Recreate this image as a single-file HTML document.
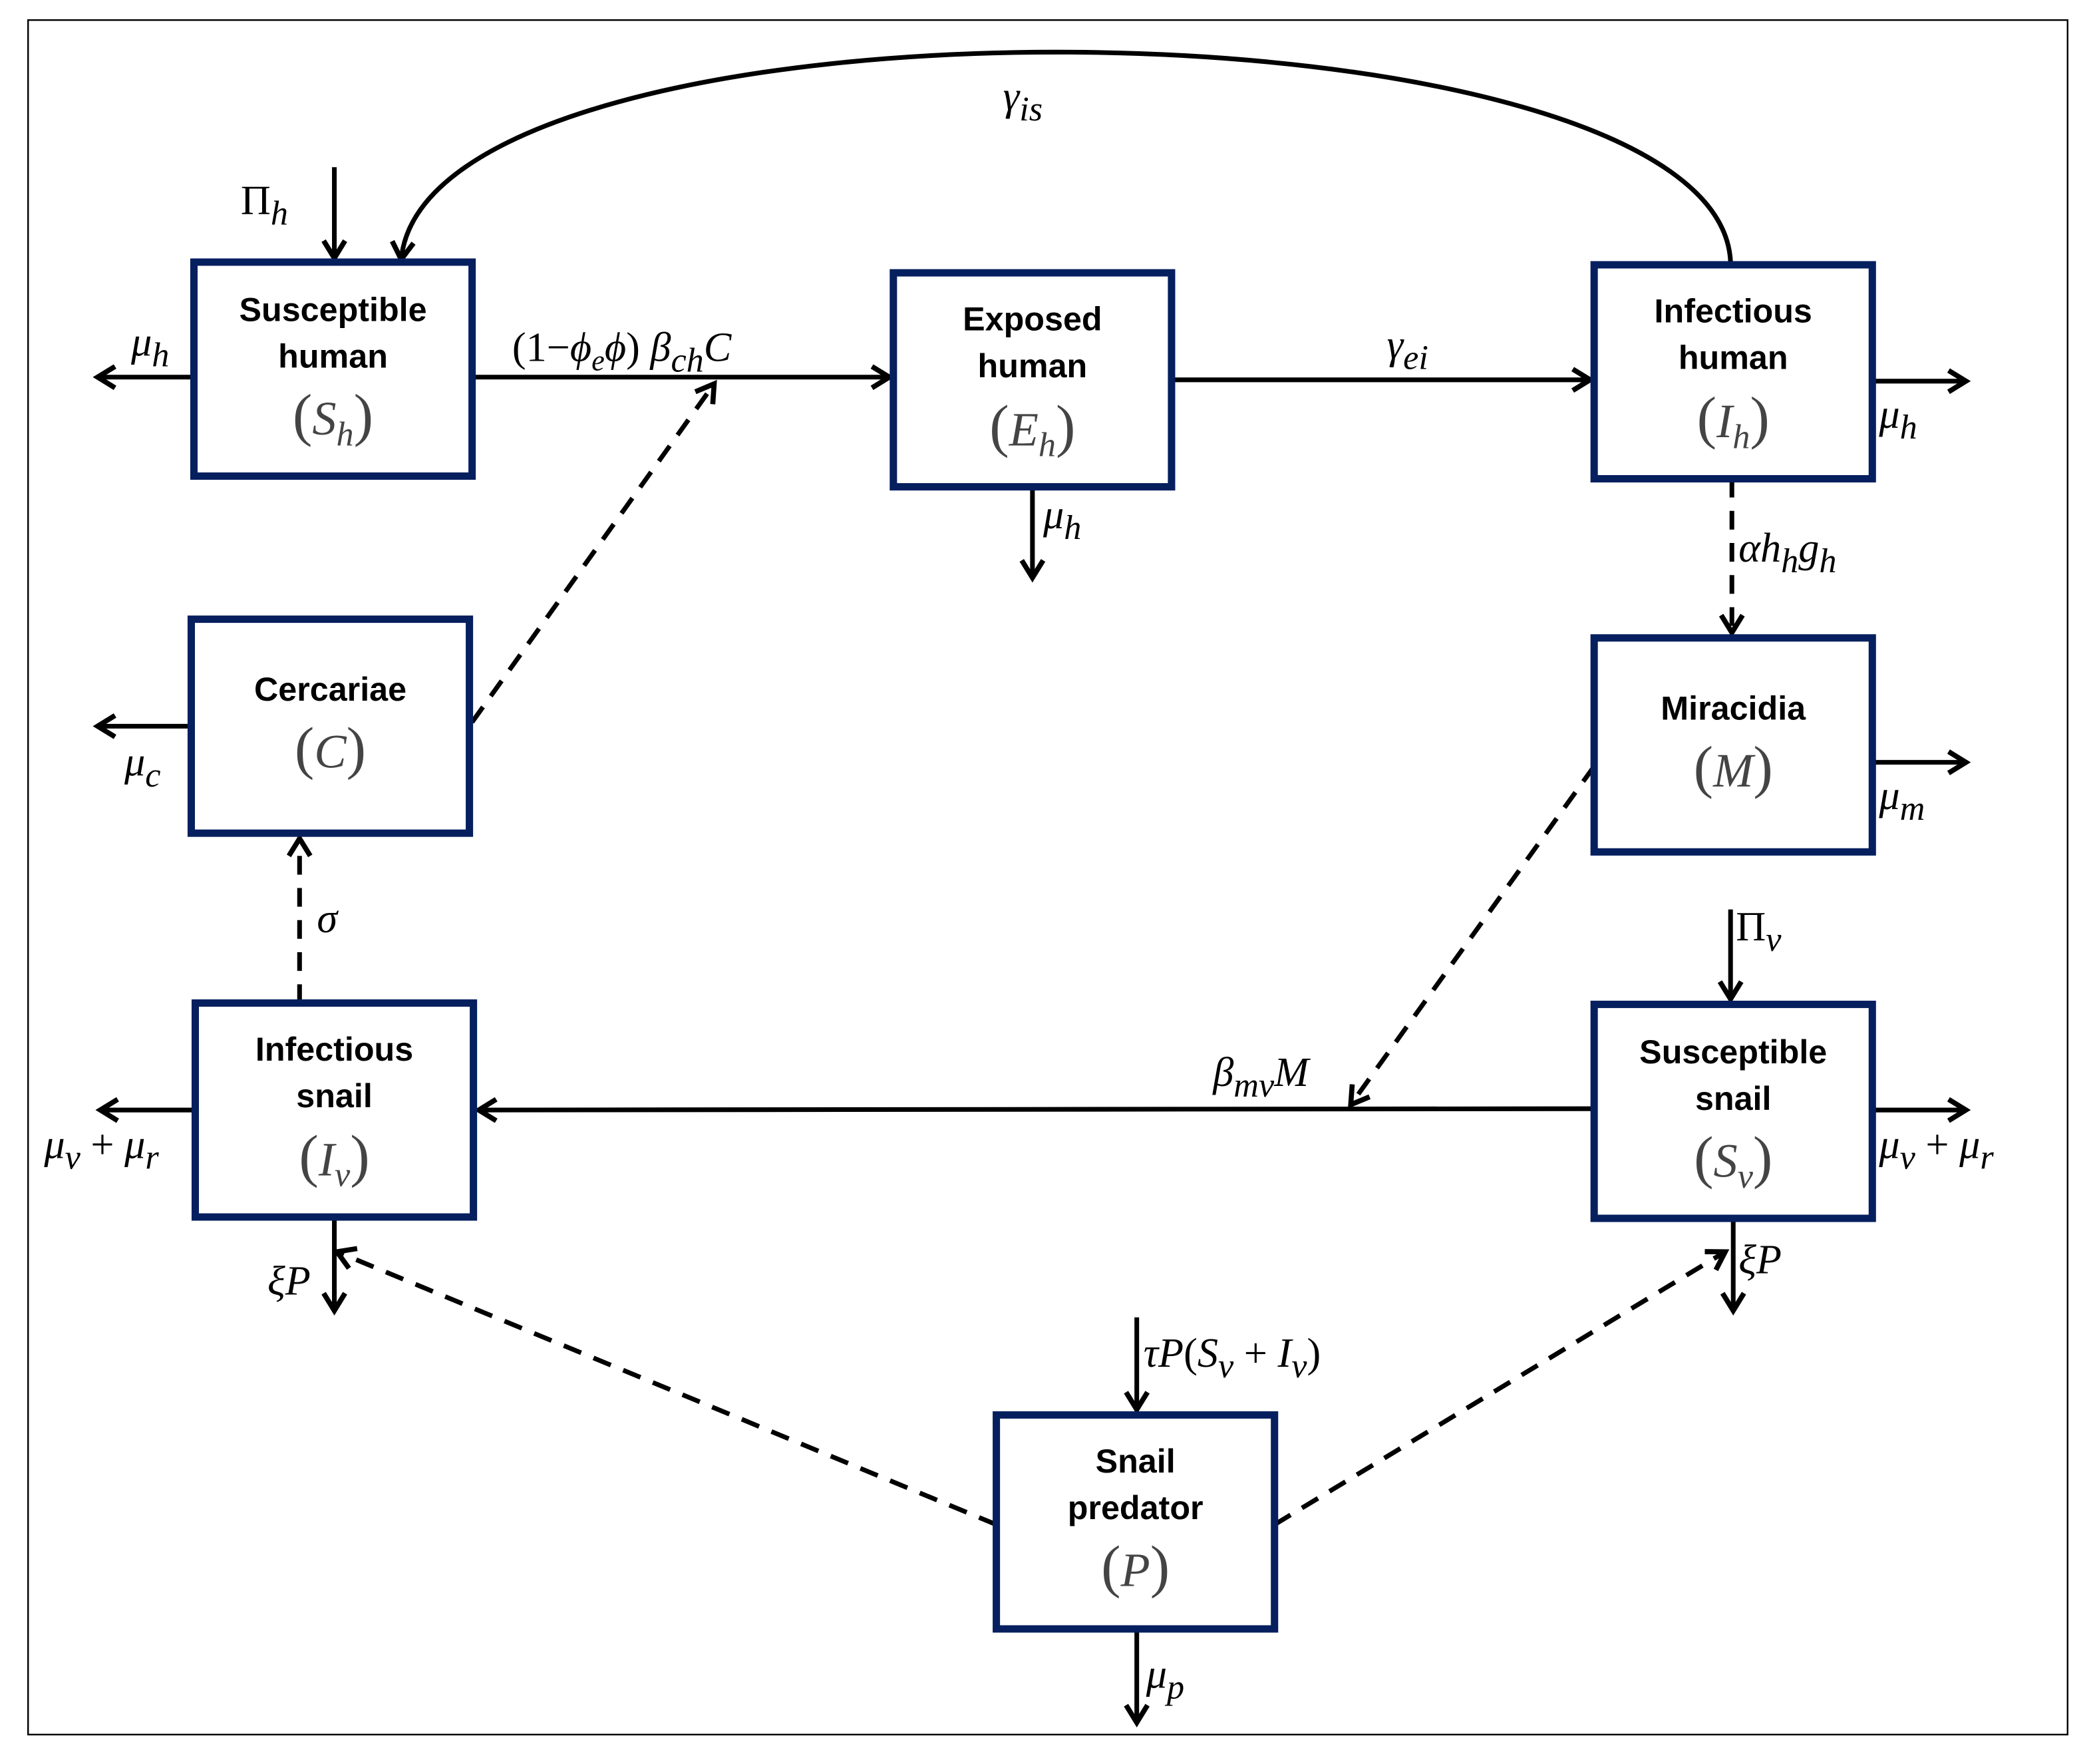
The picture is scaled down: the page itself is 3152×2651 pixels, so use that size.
<!DOCTYPE html>
<html><head><meta charset="utf-8"><style>
html,body{margin:0;padding:0;background:#fff;}
svg{display:block;}
.b{fill:#fff;stroke:#061f5e;stroke-width:5.5;}
.t{font-family:"Liberation Sans",sans-serif;font-weight:bold;font-size:25px;fill:#000;text-anchor:middle;}
.m{font-family:"Liberation Serif",serif;font-style:italic;font-size:36px;fill:#444;text-anchor:middle;}
.l{font-family:"Liberation Serif",serif;font-style:italic;font-size:31px;fill:#000;}
.n{font-style:normal;}
.p{font-style:normal;font-size:44px;}
.a{stroke:#000;stroke-width:3.5;fill:none;}
.d{stroke:#000;stroke-width:3.5;fill:none;stroke-dasharray:14,10;}
</style></head><body>
<svg width="3152" height="2651" viewBox="0 0 1568 1319" preserveAspectRatio="none" xmlns="http://www.w3.org/2000/svg">
<defs>
<marker id="ar" markerWidth="20" markerHeight="20" refX="15" refY="10" orient="auto" markerUnits="userSpaceOnUse">
<path d="M2,2 L15,10 L2,18" fill="none" stroke="#000" stroke-width="3.8"/>
</marker>
</defs>
<rect x="21" y="15" width="1525" height="1282" fill="none" stroke="#000" stroke-width="1.2"/>

<line class="a" x1="250" y1="125" x2="250" y2="193" marker-end="url(#ar)"/>
<line class="a" x1="145" y1="282" x2="73" y2="282" marker-end="url(#ar)"/>
<line class="a" x1="353" y1="282" x2="665" y2="282" marker-end="url(#ar)"/>
<line class="a" x1="876" y1="284" x2="1189" y2="284" marker-end="url(#ar)"/>
<line class="a" x1="1400" y1="285" x2="1470" y2="285" marker-end="url(#ar)"/>
<line class="a" x1="772" y1="364" x2="772" y2="432" marker-end="url(#ar)"/>
<path class="a" d="M1294,196 C1285,-8 320,-18 300,194" marker-end="url(#ar)"/>
<line class="d" x1="1295" y1="358" x2="1295" y2="473" marker-end="url(#ar)"/>
<line class="d" x1="353" y1="540" x2="534" y2="287" marker-end="url(#ar)"/>
<line class="a" x1="143" y1="543" x2="73" y2="543" marker-end="url(#ar)"/>
<line class="a" x1="1400" y1="570" x2="1470" y2="570" marker-end="url(#ar)"/>
<line class="d" x1="1192" y1="573" x2="1010" y2="826" marker-end="url(#ar)"/>
<line class="a" x1="1192" y1="829" x2="358" y2="830" marker-end="url(#ar)"/>
<line class="a" x1="1294" y1="680" x2="1294" y2="747" marker-end="url(#ar)"/>
<line class="a" x1="1400" y1="830" x2="1470" y2="830" marker-end="url(#ar)"/>
<line class="a" x1="146" y1="830" x2="75" y2="830" marker-end="url(#ar)"/>
<line class="d" x1="224" y1="750" x2="224" y2="627" marker-end="url(#ar)"/>
<line class="a" x1="250" y1="910" x2="250" y2="980" marker-end="url(#ar)"/>
<line class="a" x1="1296" y1="911" x2="1296" y2="980" marker-end="url(#ar)"/>
<line class="d" x1="745" y1="1140" x2="252" y2="936" marker-end="url(#ar)"/>
<line class="d" x1="953" y1="1140" x2="1290" y2="936" marker-end="url(#ar)"/>
<line class="a" x1="850" y1="985" x2="850" y2="1054" marker-end="url(#ar)"/>
<line class="a" x1="850" y1="1218" x2="850" y2="1288" marker-end="url(#ar)"/>

<rect class="b" x="145" y="196" width="208" height="160"/>
<text class="t" x="249" y="240">Susceptible</text><text class="t" x="249" y="275">human</text>
<text class="m" x="249" y="325"><tspan class="p">(</tspan>S<tspan font-size="26" dy="8">h</tspan><tspan class="p" dy="-8">)</tspan></text>

<rect class="b" x="668" y="204" width="208" height="160"/>
<text class="t" x="772" y="247">Exposed</text><text class="t" x="772" y="282">human</text>
<text class="m" x="772" y="333"><tspan class="p">(</tspan>E<tspan font-size="26" dy="8">h</tspan><tspan class="p" dy="-8">)</tspan></text>

<rect class="b" x="1192" y="198" width="208" height="160"/>
<text class="t" x="1296" y="241">Infectious</text><text class="t" x="1296" y="276">human</text>
<text class="m" x="1296" y="327"><tspan class="p">(</tspan>I<tspan font-size="26" dy="8">h</tspan><tspan class="p" dy="-8">)</tspan></text>

<rect class="b" x="143" y="463" width="208" height="160"/>
<text class="t" x="247" y="524">Cercariae</text>
<text class="m" x="247" y="574"><tspan class="p">(</tspan>C<tspan class="p">)</tspan></text>

<rect class="b" x="1192" y="477" width="208" height="160"/>
<text class="t" x="1296" y="538">Miracidia</text>
<text class="m" x="1296" y="588"><tspan class="p">(</tspan>M<tspan class="p">)</tspan></text>

<rect class="b" x="146" y="750" width="208" height="160"/>
<text class="t" x="250" y="793">Infectious</text><text class="t" x="250" y="828">snail</text>
<text class="m" x="250" y="879"><tspan class="p">(</tspan>I<tspan font-size="26" dy="8">v</tspan><tspan class="p" dy="-8">)</tspan></text>

<rect class="b" x="1192" y="751" width="208" height="160"/>
<text class="t" x="1296" y="795">Susceptible</text><text class="t" x="1296" y="830">snail</text>
<text class="m" x="1296" y="880"><tspan class="p">(</tspan>S<tspan font-size="26" dy="8">v</tspan><tspan class="p" dy="-8">)</tspan></text>

<rect class="b" x="745" y="1058" width="208" height="160"/>
<text class="t" x="849" y="1101">Snail</text><text class="t" x="849" y="1136">predator</text>
<text class="m" x="849" y="1186"><tspan class="p">(</tspan>P<tspan class="p">)</tspan></text>

<text class="l" x="180" y="160"><tspan class="n">Π</tspan><tspan font-size="26" dy="8">h</tspan></text>
<text class="l" x="98" y="266">μ<tspan font-size="26" dy="8">h</tspan></text>
<text class="l" x="383" y="270"><tspan class="n">(1−</tspan>ϕ<tspan font-size="22" dy="7">e</tspan><tspan dy="-7">ϕ</tspan><tspan class="n">)</tspan> β<tspan font-size="26" dy="8">ch</tspan><tspan dy="-8">C</tspan></text>
<text class="l" x="1037" y="268">γ<tspan font-size="26" dy="8">ei</tspan></text>
<text class="l" x="1405" y="320">μ<tspan font-size="26" dy="8">h</tspan></text>
<text class="l" x="780" y="395">μ<tspan font-size="26" dy="8">h</tspan></text>
<text class="l" x="750" y="82">γ<tspan font-size="26" dy="8">is</tspan></text>
<text class="l" x="1300" y="420">αh<tspan font-size="26" dy="8">h</tspan><tspan dy="-8">g</tspan><tspan font-size="26" dy="8">h</tspan></text>
<text class="l" x="93" y="580">μ<tspan font-size="26" dy="8">c</tspan></text>
<text class="l" x="1405" y="605">μ<tspan font-size="26" dy="8">m</tspan></text>
<text class="l" x="1298" y="703"><tspan class="n">Π</tspan><tspan font-size="26" dy="8">v</tspan></text>
<text class="l" x="907" y="812">β<tspan font-size="26" dy="8">mv</tspan><tspan dy="-8">M</tspan></text>
<text class="l" x="237" y="697">σ</text>
<text class="l" x="1405" y="866">μ<tspan font-size="26" dy="8">v</tspan><tspan dy="-8" class="n"> + </tspan>μ<tspan font-size="26" dy="8">r</tspan></text>
<text class="l" x="33" y="866">μ<tspan font-size="26" dy="8">v</tspan><tspan dy="-8" class="n"> + </tspan>μ<tspan font-size="26" dy="8">r</tspan></text>
<text class="l" x="200" y="968">ξP</text>
<text class="l" x="1300" y="952">ξP</text>
<text class="l" x="855" y="1022">τP<tspan class="n">(</tspan>S<tspan font-size="26" dy="8">v</tspan><tspan dy="-8" class="n"> + </tspan>I<tspan font-size="26" dy="8">v</tspan><tspan dy="-8" class="n">)</tspan></text>
<text class="l" x="857" y="1262">μ<tspan font-size="26" dy="8">p</tspan></text>
</svg>
</body></html>
